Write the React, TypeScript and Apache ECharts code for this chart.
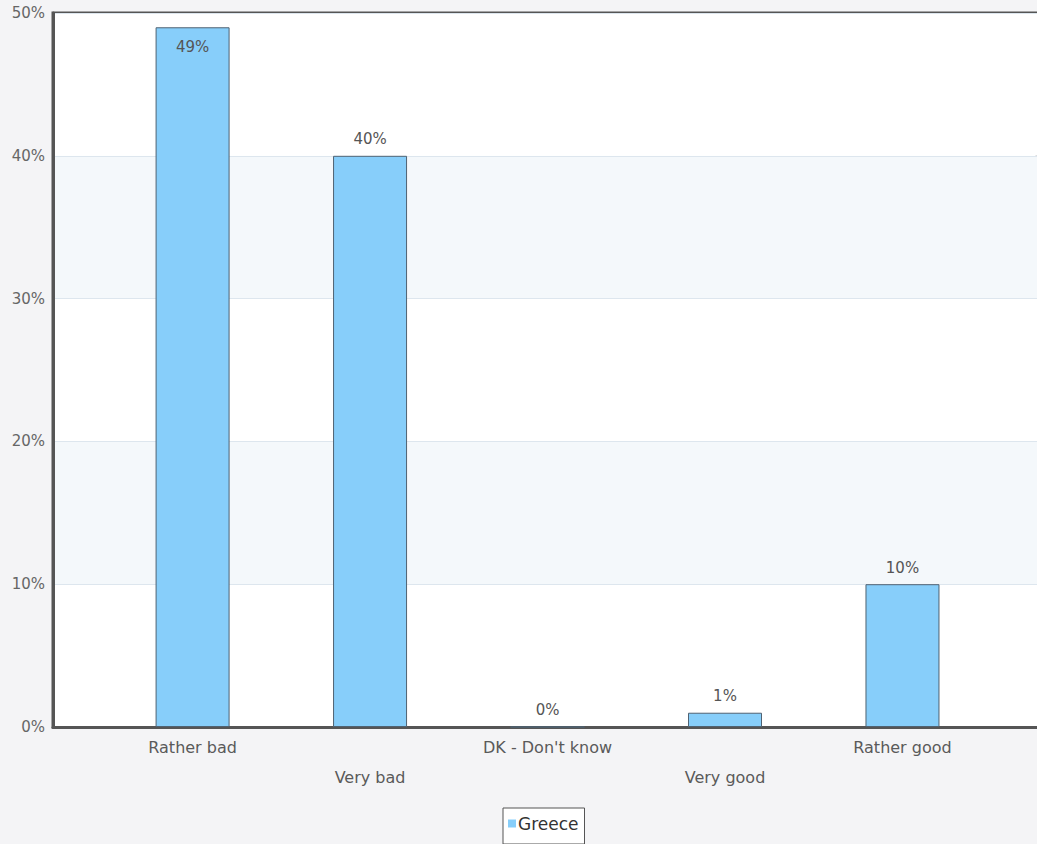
import React, { useEffect, useRef } from "react";
import * as echarts from "echarts";

const categories = ["Rather bad", "Very bad", "DK - Don't know", "Very good", "Rather good"];
const greece = [49, 40, 0, 1, 10];
const yTicks = [0, 10, 20, 30, 40, 50];

const FONT = "DejaVu Sans";

export default function App() {
  const ref = useRef<HTMLDivElement>(null);
  useEffect(() => {
    if (!ref.current) return;
    const chart = echarts.init(ref.current, null, { renderer: "svg" });
    const idx = categories.map((_, i) => i);
    chart.setOption({
      animation: false,
      backgroundColor: "#f4f4f6",
      grid: {
        left: 53,
        top: 13,
        right: -3,
        bottom: 117,
        show: true,
        backgroundColor: "#ffffff",
        borderColor: "#555555",
        borderWidth: 3,
      },
      legend: {
        left: 503,
        top: 808,
        data: ["Greece"],
        backgroundColor: "#ffffff",
        borderColor: "#555555",
        borderWidth: 1,
        borderRadius: 0,
        padding: [7, 6, 12, 5],
        icon: "rect",
        itemWidth: 8,
        itemHeight: 8,
        itemGap: 4,
        itemStyle: { borderWidth: 0 },
        textStyle: { fontFamily: FONT, fontSize: 17, color: "#333", padding: [0, 0, 0, -3] },
      },
      xAxis: {
        type: "value",
        min: -0.7865,
        max: 4.758,
        splitLine: { show: false },
        axisTick: { show: false },
        axisLine: { show: true, onZero: false, lineStyle: { color: "#555555", width: 3 } },
        axisLabel: {
          customValues: idx,
          margin: 13,
          fontFamily: FONT,
          fontSize: 16,
          color: "#5a5a5a",
          lineHeight: 15,
          formatter: (v: number) => {
            const i = Math.round(v);
            const name = categories[i] ?? "";
            return i % 2 === 1 ? "\n\n" + name : name;
          },
          verticalAlign: "top",
        },
      },
      yAxis: {
        type: "value",
        min: 0,
        max: 50,
        interval: 10,
        axisLine: { show: true, onZero: false, lineStyle: { color: "#555555", width: 3 } },
        axisTick: { show: false },
        axisLabel: {
          formatter: (v: number) => (yTicks.includes(v) ? v + "%" : ""),
          fontFamily: FONT,
          fontSize: 15,
          color: "#666",
          margin: 8,
          verticalAlign: "middle",
        },
        splitLine: { show: true, lineStyle: { color: "#dde6ee", width: 1 } },
        splitArea: { show: true, areaStyle: { color: ["#ffffff", "#f4f8fb"] } },
      },
      series: [
        {
          name: "Greece",
          type: "bar",
          barWidth: 74,
          data: greece.map((v, i) => ({
            value: [i, v],
            label: i === 0 ? { position: "insideTop", distance: 12 } : undefined,
          })),
          itemStyle: { color: "#87cefa", borderColor: "#4f6272", borderWidth: 1 },
          label: {
            show: true,
            position: "top",
            distance: 9,
            formatter: (p: any) => p.value[1] + "%",
            fontFamily: FONT,
            fontSize: 15,
            color: "#555",
          },
        },
      ],
    });
    return () => chart.dispose();
  }, []);
  return (
    <div
      ref={ref}
      style={{ position: "fixed", left: 0, top: 0, width: 1037, height: 844 }}
    />
  );
}
